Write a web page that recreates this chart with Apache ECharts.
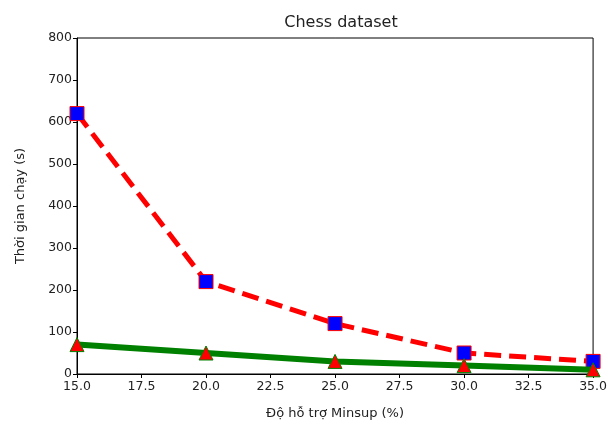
<!DOCTYPE html>
<html><head><meta charset="utf-8">
<script src="https://cdn.jsdelivr.net/npm/echarts@6/dist/echarts.min.js"></script>
<style>html,body{margin:0;padding:0;background:#fff}#c{width:610px;height:425px}</style>
</head><body><div id="c"></div>
<script>
const minsup = [15, 20, 25, 30, 35];
const seriesRed = [620, 220, 120, 50, 30];
const seriesGreen = [70, 50, 30, 20, 10];
const titleText = 'Chess dataset';
const xLabel = 'Độ hỗ trợ Minsup (%)';
const yLabel = 'Thời gian chạy (s)';

const font = 'DejaVu Sans';
const chart = echarts.init(document.getElementById('c'));
const axisCommon = {
  axisLine: {show: true, lineStyle: {color: '#000', width: 1}},
  axisTick: {show: true, inside: false, length: 4, lineStyle: {color: '#000'}},
  axisLabel: {color: '#222', fontFamily: font, fontSize: 12.5, margin: 5},
  splitLine: {show: false}
};
chart.setOption({
  animation: false,
  title: {text: titleText, left: 336, top: 10, textAlign: 'center',
    textStyle: {fontFamily: font, fontSize: 16, fontWeight: 'normal', color: '#222'}},
  grid: {left: 77, right: 15, top: 38, bottom: 50, show: true, borderColor: '#000', borderWidth: 1, backgroundColor: 'transparent'},
  xAxis: Object.assign({}, axisCommon, {
    type: 'value', min: 15, max: 35, interval: 2.5,
    name: xLabel, nameLocation: 'middle', nameGap: 33,
    nameTextStyle: {fontFamily: font, fontSize: 13, color: '#222'},
    axisLabel: Object.assign({}, axisCommon.axisLabel, {formatter: v => v.toFixed(1), margin: 6})
  }),
  yAxis: Object.assign({}, axisCommon, {
    type: 'value', min: 0, max: 800, interval: 100,
    name: yLabel, nameLocation: 'middle', nameGap: 50,
    nameTextStyle: {fontFamily: font, fontSize: 13, color: '#222'}
  }),
  series: [
    {type: 'line', data: minsup.map((x, i) => [x, seriesRed[i]]), clip: true,
      lineStyle: {color: '#ff0000', width: 5, type: [17, 8]},
      symbol: 'rect', symbolSize: 14,
      itemStyle: {color: '#0000ff', borderColor: '#ff0000', borderWidth: 1}, z: 2},
    {type: 'line', data: minsup.map((x, i) => [x, seriesGreen[i]]), clip: true,
      lineStyle: {color: '#008000', width: 6},
      symbol: 'triangle', symbolSize: 14,
      itemStyle: {color: '#ff0000', borderColor: '#008000', borderWidth: 1}, z: 3}
  ]
});
</script></body></html>
